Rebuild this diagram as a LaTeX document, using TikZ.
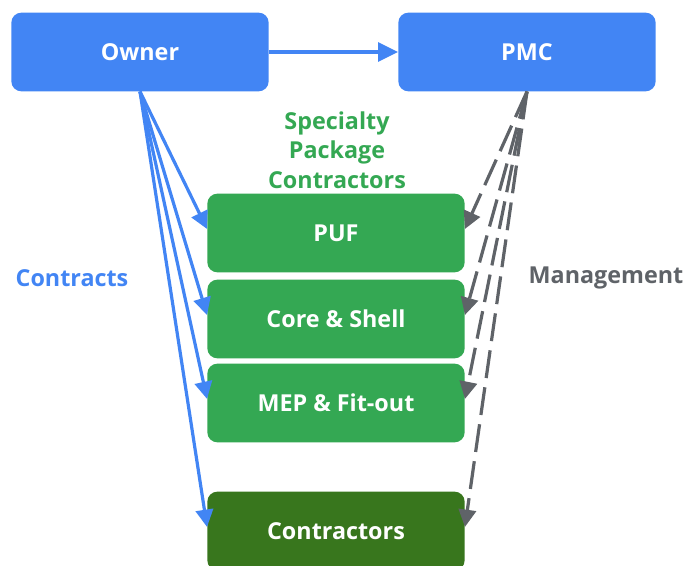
\documentclass[tikz,border=0pt]{standalone}
\usepackage{fontspec}
\setmainfont{Open Sans}
\usetikzlibrary{arrows.meta}

\definecolor{ownerBlue}{HTML}{4285F4}
\definecolor{packageGreen}{HTML}{34A853}
\definecolor{contractorGreen}{HTML}{38761D}
\definecolor{pmcGray}{HTML}{5F6368}

\begin{document}
\begin{tikzpicture}
[x=0.75pt,y=-0.75pt,%
  boxDecorate/.style={shape=rectangle,rounded corners=7.5pt,minimum width=193pt,
    minimum height=59pt,text=white,font=\bfseries\fontsize{17.5}{20}\selectfont},%
  topDecorate/.style={boxDecorate,fill=ownerBlue},%
  packageDecorate/.style={boxDecorate,fill=packageGreen},%
  contractLine/.style={-{Triangle[length=13pt,width=13pt]},ownerBlue,line width=2.4pt},%
  manageLine/.style={-{Triangle[length=13pt,width=13pt]},pmcGray,line width=2.4pt,
    dash pattern=on 21pt off 7pt},%
  labelDecorate/.style={font=\bfseries\fontsize{17.5}{22}\selectfont,align=center}]
\useasboundingbox (0,0) rectangle (686,566);
%% top boxes
\node (owner) at (140,52) [topDecorate] {Owner};
\node (pmc) at (527,52) [topDecorate] {PMC};
%% package boxes
\foreach \nodename/\y/\name in {
  puf/233/PUF, core/319/Core \& Shell, mep/403/MEP \& Fit-out}
{
  \node (\nodename) at (336,\y) [packageDecorate] {\name};
}
\node (contractors) at (336,531) [boxDecorate,fill=contractorGreen] {Contractors};
%% labels
\node (specialty) at (337,150) [labelDecorate,text=packageGreen] {Specialty\\Package\\Contractors};
\node (contracts) at (72,278) [labelDecorate,text=ownerBlue] {Contracts};
\node (management) at (606,278) [labelDecorate,text=pmcGray] {Management};
%% contracts and management lines
\draw[contractLine,line width=3pt,-{Triangle[length=15pt,width=14pt]}] (owner) -- (pmc);
\path
\foreach \endnode in {puf, core, mep, contractors}
{
  (owner.south) edge[contractLine] ([yshift=3pt]\endnode.west)
  (pmc.south) edge[manageLine] ([yshift=3pt]\endnode.east)
};
\end{tikzpicture}
\end{document}
